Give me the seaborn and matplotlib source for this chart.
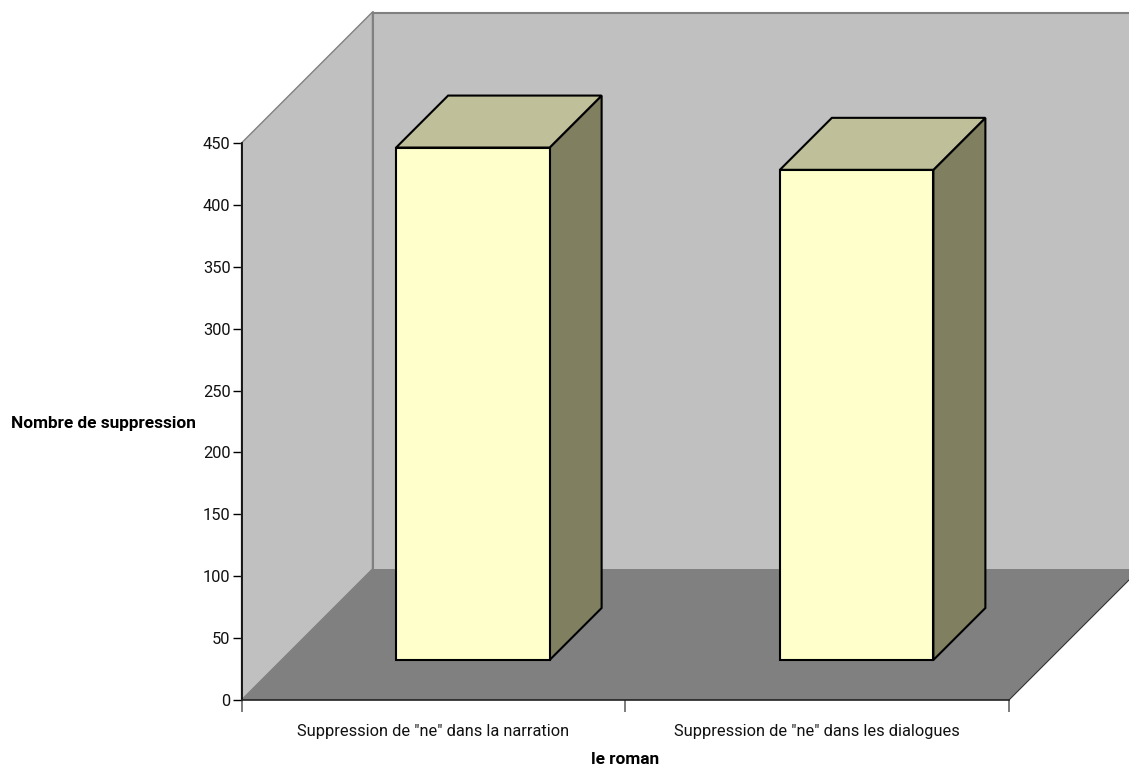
import pandas as pd
import seaborn as sns
import matplotlib.pyplot as plt
from matplotlib.patches import Polygon
from matplotlib.transforms import Affine2D

# Values
categories = ['Suppression de "ne" dans la narration', 'Suppression de "ne" dans les dialogues']
values = [414, 396]
y_ticks = [0, 50, 100, 150, 200, 250, 300, 350, 400, 450]

df = pd.DataFrame({"cat": categories, "val": values})

sns.set_theme(style="white")
plt.rcParams["font.family"] = ["Roboto", "Liberation Sans", "DejaVu Sans"]
FS = 11.75
FS_BOLD = 12.4

W, H = 1129, 767
fig = plt.figure(figsize=(W / 100, H / 100), dpi=100)
ax = fig.add_axes([241.5 / W, (H - 700) / H, 767.5 / W, 557 / H])
ax.set_facecolor("none")

sns.barplot(data=df, x="cat", y="val", color="#FFFFCC", saturation=1, width=0.4,
            edgecolor="black", linewidth=1.5, zorder=5, ax=ax)
ax.set_xlim(-0.5, 1.5)
ax.set_ylim(0, 450)

# 3D box walls, shifted in pixels from the axes rectangle
back = ax.transAxes + Affine2D().translate(131, 131)
ax.add_patch(Polygon([[0, 0], [1.2, 0], [1.2, 1], [0, 1]], transform=back, fc="#C0C0C0",
                     ec="none", zorder=1, clip_on=False))
# left wall and floor joined by sheared polygons
to_disp = ax.transAxes.transform
p00, p10, p01 = to_disp([0, 0]), to_disp([1, 0]), to_disp([0, 1])
d = [131, 131]
px = Affine2D()
ax.add_patch(Polygon([p00, p01, p01 + d, p00 + d], transform=px, fc="#C0C0C0", ec="#808080",
                     lw=1, zorder=1, clip_on=False))
ax.add_patch(Polygon([p00, p10, p10 + d, p00 + d], transform=px, fc="#808080", ec="none",
                     zorder=2, clip_on=False))
ax.plot([p00[0] + 131] * 2, [p00[1] + 131, p01[1] + 131], transform=px, color="#808080", lw=1.5,
        zorder=2, clip_on=False)
ax.plot([p01[0] + 131, W], [p01[1] + 130.5] * 2, transform=px, color="#808080", lw=1.5, zorder=2,
        clip_on=False)
ax.plot([p10[0], p10[0] + 131], [p10[1], p10[1] + 131], transform=px, color="#333333", lw=0.8,
        zorder=2, clip_on=False)

# Front faces sit 40 px into the box, with side and top faces behind them
off = [39.5, 40]
shift = Affine2D().translate(*off)
depth = [52, 52]
for bar in list(ax.patches):
    if bar.get_zorder() != 5:
        continue
    bar.set_transform(ax.transData + shift)
    bar.set_clip_on(False)
    x0, y0 = bar.get_x(), bar.get_y()
    x1, y1 = x0 + bar.get_width(), y0 + bar.get_height()
    bl, br, tr, tl = (ax.transData.transform(p) + off
                      for p in [(x0, y0), (x1, y0), (x1, y1), (x0, y1)])
    ax.add_patch(Polygon([br, tr, tr + depth, br + depth], transform=px, fc="#808060",
                         ec="black", lw=1.5, joinstyle="miter", zorder=4, clip_on=False))
    ax.add_patch(Polygon([tl, tr, tr + depth, tl + depth], transform=px, fc="#BFBF99",
                         ec="black", lw=1.5, joinstyle="miter", zorder=4, clip_on=False))

# Axes
sns.despine(ax=ax)
for s in ["left", "bottom"]:
    ax.spines[s].set_color("black")
    ax.spines[s].set_linewidth(1.2)
    ax.spines[s].set_zorder(3)
ax.spines["bottom"].set_color("#222222")
ax.set_yticks(y_ticks)
ax.set_xticks([0, 1])
ax.set_xticklabels(categories)
ax.set_xticks([-0.5, 0.5, 1.5], minor=True)
ax.tick_params(axis="x", which="major", length=0, pad=17, labelsize=FS, colors="#111111")
ax.tick_params(axis="x", which="minor", length=8.5, width=1.2, color="#666666", bottom=True)
ax.tick_params(axis="y", length=6.5, width=1, pad=1.5, labelsize=FS, left=True,
               color="black", labelcolor="#111111")
ax.set_xlabel("le roman", fontsize=FS_BOLD, fontweight="bold", color="black", va="center")
ax.xaxis.set_label_coords(0.5, -0.106)
ax.set_ylabel("Nombre de suppression", fontsize=FS_BOLD, fontweight="bold", rotation=0,
              ha="center", va="center", color="black")
ax.yaxis.set_label_coords(-0.1805, 0.497)

fig.savefig("out.png", dpi=100, facecolor="white")
